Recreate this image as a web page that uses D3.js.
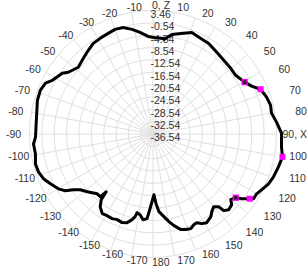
<!DOCTYPE html>
<html><head><meta charset="utf-8">
<script src="https://cdn.jsdelivr.net/npm/d3@7"></script>
<style>body{margin:0;background:#fff}svg{display:block}text{font-family:"Liberation Sans",Arial,sans-serif}</style>
</head><body>
<svg id="c" width="308" height="274"></svg>
<script>
// pattern (angle in degrees, value in dB)
const angles = [0.6,5.9,6.6,10.8,15.5,20.9,26.6,31.6,38.0,43.8,49.8,54.6,60.5,64.1,67.4,72.0,76.2,80.0,84.5,89.6,91.3,95.8,100.0,104.7,109.6,113.3,117.2,120.0,122.8,123.8,126.1,127.6,130.2,131.9,135.0,137.3,137.9,140.1,142.9,145.0,148.8,151.4,153.7,155.7,158.2,161.0,163.7,167.1,169.7,172.5,175.6,177.5,179.1,
 -177.7,-176,-173.4,-170.9,-168.6,-167.8,-166.3,-163.7,-160.8,-157.3,-154.2,-150.7,-147.5,-144,-141.8,-141,-139.9,-137,-131.3,-127.5,-125,-122.9,-120.1,-115.9,-112.2,-108.3,-104.3,-99.6,-94.8,-91.5,-81.7,-73.7,-68.7,-64.7,-61.9,-56.2,-53.9,-48.2,-42.6,-37.7,-33.4,-28.9,-24,-19.9,-15.7,-11.3,-7.3,-2.9];
const values = [-5.25,-5.41,-5.70,-3.70,-2.73,-1.31,-1.92,-2.09,-2.99,-3.44,-3.57,-3.70,-2.44,-1.05,1.20,2.14,2.66,2.43,3.65,5.08,5.08,5.30,6.04,5.46,4.88,4.21,2.98,2.21,2.21,1.14,-0.99,-2.73,-3.57,-2.28,-1.86,-2.76,-4.80,-5.86,-4.99,-3.86,-2.96,-3.47,-4.51,-4.34,-3.53,-3.80,-4.28,-6.08,-7.70,-9.54,-11.31,-13.96,-16.86,
 -12.31,-9.05,-8.6,-10.08,-10.54,-9.15,-7.99,-6.63,-6.15,-6.47,-6.09,-6.21,-5.93,-7.44,-9.44,-12.44,-9.99,-10.05,-8.2,-6.86,-5.03,-2.73,-1.12,0.40,1.79,2.53,2.75,2.08,2.30,1.53,1.59,2.46,2.59,1.98,0.40,-1.18,-2.60,-4.09,-3.21,-2.28,-1.38,-1.15,-0.86,-0.50,-0.70,-1.99,-3.38,-4.89];
// markers
const markerFilledAngles = [67.4,100.0,123.8];
const markerFilledValues = [1.20,6.04,1.14];
const markerHollowAngles = [60.5,127.6];
const markerHollowValues = [-2.44,-2.73];
// radial tick labels
const radialTicks = [3.46,-0.54,-4.54,-8.54,-12.54,-16.54,-20.54,-24.54,-28.54,-32.54,-36.54];
// angular ticks
const angTicks = [0,10,20,30,40,50,60,70,80,90,100,110,120,130,140,150,160,170,180,-170,-160,-150,-140,-130,-120,-110,-100,-90,-80,-70,-60,-50,-40,-30,-20,-10];
const angLabels = ["0, Z","10","20","30","40","50","60","70","80","90, X","100","110","120","130","140","150","160","170","180","-170","-160","-150","-140","-130","-120","-110","-100","-90","-80","-70","-60","-50","-40","-30","-20","-10"];

const W=308,H=274,cx=153,cy=134,R=123.5;
const svg=d3.select("#c");
const r=d3.scaleLinear().domain([-36.54,3.46]).range([0,R]);
const rad=d=>d*Math.PI/180;
const g=svg.append("g").attr("transform",`translate(${cx},${cy})`);
const grid=g.append("g").attr("stroke","#e0e0e0").attr("fill","none").attr("stroke-width",1);
radialTicks.filter(t=>r(t)>0).forEach(t=>grid.append("circle").attr("r",r(t)));
angTicks.forEach(a=>grid.append("line").attr("x1",0).attr("y1",0)
  .attr("x2",R*Math.sin(rad(a))).attr("y2",-R*Math.cos(rad(a))));
// radial labels
g.append("g").selectAll("text").data(radialTicks).join("text")
  .attr("x",-2.5).attr("y",d=>-r(d)+3.8).attr("dy","0.35em")
  .attr("font-size",10.5).attr("fill","#333").text(d=>d.toFixed(2));
// data line
const pts=angles.map((a,i)=>[rad(a),r(values[i])]);
const line=d3.lineRadial().angle(d=>d[0]).radius(d=>d[1]).curve(d3.curveLinearClosed);
g.append("path").attr("d",line(pts)).attr("fill","none").attr("stroke","#000")
  .attr("stroke-width",3).attr("stroke-linejoin","round");
// markers
const pos=(a,v)=>[r(v)*Math.sin(rad(a)),-r(v)*Math.cos(rad(a))];
markerFilledAngles.forEach((a,i)=>{const p=pos(a,markerFilledValues[i]);
  g.append("rect").attr("x",p[0]-3).attr("y",p[1]-3).attr("width",6).attr("height",6).attr("fill","#ff00ff");});
markerHollowAngles.forEach((a,i)=>{const p=pos(a,markerHollowValues[i]);
  g.append("rect").attr("x",p[0]-2.5).attr("y",p[1]-2.5).attr("width",5).attr("height",5).attr("fill","#222").attr("stroke","#ff00ff").attr("stroke-width",1.3);});
// angular labels
const al=svg.append("g").selectAll("text").data(angTicks).join("text")
  .attr("x",a=>cx-1+146*Math.sin(rad(a))).attr("y",a=>cy-128.5*Math.cos(rad(a)))
  .attr("dy","0.35em").attr("font-size",10.5).attr("fill","#333")
  .text((a,i)=>angLabels[i]);
al.each(function(){const b=this.getBBox(); if(b.x+b.width>W-1) d3.select(this).attr("x",W-1-b.width);});
</script>
</body></html>
